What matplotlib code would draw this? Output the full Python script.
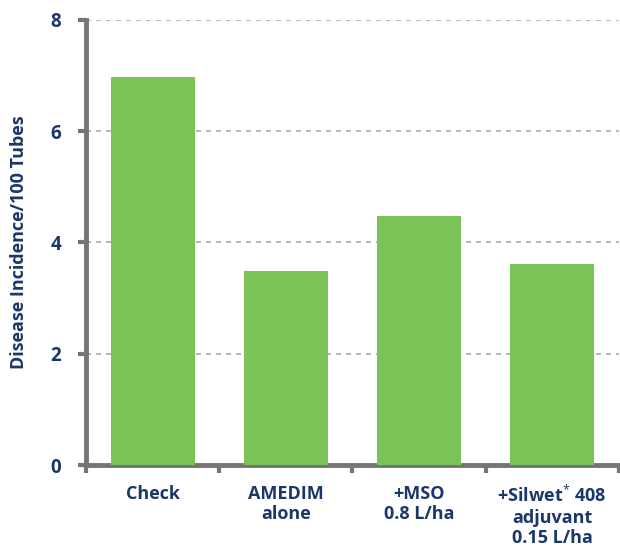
import matplotlib.pyplot as plt
import matplotlib.transforms as mtransforms
import numpy as np

plt.rcParams['font.family'] = ['Open Sans', 'DejaVu Sans']
plt.rcParams['mathtext.fontset'] = 'custom'
plt.rcParams['mathtext.rm'] = 'Open Sans'
plt.rcParams['mathtext.bf'] = 'Open Sans:bold'

categories = ['Check', 'AMEDIM\nalone', '+MSO\n0.8 L/ha',
              '+Silwet$^{*}$ 408\nadjuvant\n0.15 L/ha']
values = [6.97, 3.49, 4.48, 3.62]
yticks = [0, 2, 4, 6, 8]

navy = '#1b3769'
green = '#7bc257'
axcol = '#757575'

fig = plt.figure(figsize=(6.2, 5.53), dpi=100)
ax = fig.add_axes([0.139, 0.159, 0.859, 0.805])

x = np.arange(len(categories))
ax.bar(x, values, width=0.63, color=green, zorder=3)

ax.set_xlim(-0.5, len(categories) - 0.5)
ax.set_ylim(0, 8)
ax.set_yticks(yticks)
ax.set_yticklabels([str(t) for t in yticks], fontsize=13.5, fontweight='bold', color=navy)
shift = mtransforms.ScaledTranslation(0, 4 / 72, fig.dpi_scale_trans)
for lab in ax.get_yticklabels():
    lab.set_transform(lab.get_transform() + shift)
ax.set_xticks(x)
ax.set_xticklabels(categories, fontsize=13, fontweight='bold', color=navy,
                   linespacing=1.2)
ax.tick_params(axis='x', length=0, pad=14)
ax.set_xticks(np.arange(len(categories) + 1) - 0.5, minor=True)
ax.tick_params(axis='x', which='minor', length=6, width=3, color=axcol)
ax.tick_params(axis='y', length=6, width=3, color=axcol, pad=12)

for t in yticks[1:]:
    ax.axhline(t, color='#aaaaaa', linestyle=(0, (3, 3)), linewidth=1.2, zorder=1)

for s in ['top', 'right']:
    ax.spines[s].set_visible(False)
for s in ['left', 'bottom']:
    ax.spines[s].set_color(axcol)
    ax.spines[s].set_linewidth(3.5)

ax.set_ylabel('Disease Incidence/100 Tubes', fontsize=13, fontweight='bold',
              color=navy)
ax.yaxis.set_label_coords(-0.11, 0.5)

plt.savefig('out.png', dpi=100)
